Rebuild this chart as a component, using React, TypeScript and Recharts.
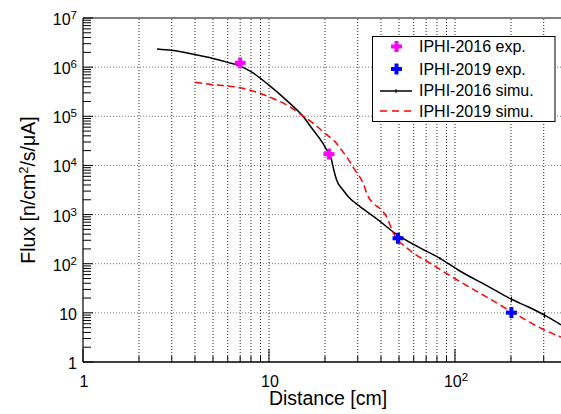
import React from 'react';
import { ComposedChart, Line, Scatter, XAxis, YAxis, ReferenceLine, ErrorBar } from 'recharts';

const FONT = '"Liberation Sans", Arial, Helvetica, sans-serif';

// IPHI-2016 simulation (black solid)
const sim2016X = [2.5, 3, 4, 5, 6, 7, 8, 10, 12.9, 15.3, 17, 19.5, 20.4, 21.7, 22.1, 23.1, 25, 27.2, 30.5, 38, 47.5, 63, 83, 104, 150, 201, 250, 303, 372];
const sim2016Y = [2.35e6, 2.2e6, 1.8e6, 1.5e6, 1.25e6, 1.05e6, 8.1e5, 4.3e5, 1.85e5, 9.8e4, 5.7e4, 2.8e4, 2.06e4, 1.29e4, 9.4e3, 5.06e3, 3.16e3, 2.14e3, 1.5e3, 820, 420, 222, 129, 74.5, 35, 18.9, 13, 9.0, 5.7];
const sim2016Err = [0, 0, 0, 0, 0, 0, 0, 0, 0, 0, 0, 0, 0, 0, 0, 0, 0, 0, 0, 0, 0, 0, 8, 0, 0, 2.5, 0, 1.2, 0];

// IPHI-2019 simulation (red dashed)
const sim2019X = [4, 5, 7, 10, 12.9, 15.3, 17.3, 20, 23.1, 24, 27.2, 28.2, 32, 34, 36.3, 39.4, 42.9, 46.4, 57, 73.6, 106.6, 150, 201, 303, 372];
const sim2019Y = [4.9e5, 4.4e5, 3.8e5, 2.5e5, 1.57e5, 1.0e5, 7.2e4, 4.5e4, 2.8e4, 2.3e4, 1.19e4, 9.4e3, 4.4e3, 2.4e3, 1.7e3, 1.34e3, 900, 440, 190, 102, 43, 20.4, 10.6, 4.48, 3.2];

// measurements
const exp2016X = [7, 21];
const exp2016Y = [1.22e6, 1.7e4];
const exp2019X = [49.4, 201];
const exp2019Y = [329, 10.1];

const xTicks = [1, 2, 3, 4, 5, 6, 7, 8, 9, 10, 20, 30, 40, 50, 60, 70, 80, 90, 100, 200, 300];
const yTicks = [1, 2, 3, 4, 5, 6, 7, 8, 9];
for (let d = 10; d <= 1e6; d *= 10) for (let k = 1; k <= 9; k++) yTicks.push(k * d);
yTicks.push(1e7);
const xGrid = xTicks.filter((v) => v > 1);
const yGrid = [10, 100, 1e3, 1e4, 1e5, 1e6];

const X_MAX = 371.5;

const sim2016 = sim2016X.map((x, i) => ({ x, y: sim2016Y[i], err: sim2016Err[i] }));
const sim2019 = sim2019X.map((x, i) => ({ x, y: sim2019Y[i] }));
const exp2016 = exp2016X.map((x, i) => ({ x, y: exp2016Y[i] }));
const exp2019 = exp2019X.map((x, i) => ({ x, y: exp2019Y[i] }));

const isMajor = (v: number) => {
  const e = Math.log10(v);
  return Math.abs(e - Math.round(e)) < 1e-6;
};

const PowLabel = ({ v }: { v: number }) => {
  const e = Math.round(Math.log10(v));
  if (e === 0) return <>1</>;
  if (e === 1) return <>10</>;
  return (
    <>
      10<tspan dy={-6} fontSize={11.5}>{e}</tspan>
    </>
  );
};

const YTick = (props: any) => {
  const { x, y, payload } = props;
  const major = isMajor(payload.value);
  return (
    <g>
      <line x1={x} x2={x + (major ? 10 : 8)} y1={y} y2={y} stroke="#000" strokeWidth={1} />
      {major && (
        <text x={x - 6} y={y + 7} textAnchor="end" fontSize={16} fontFamily={FONT} fill="#000">
          <PowLabel v={payload.value} />
        </text>
      )}
    </g>
  );
};

const XTick = (props: any) => {
  const { x, y, payload } = props;
  const major = isMajor(payload.value);
  return (
    <g>
      <line x1={x} x2={x} y1={y} y2={y - (major ? 13 : 6)} stroke="#000" strokeWidth={1} />
      {major && (
        <text x={x + 1} y={y + 25} textAnchor="middle" fontSize={16} fontFamily={FONT} fill="#000">
          <PowLabel v={payload.value} />
        </text>
      )}
    </g>
  );
};

const plus = (color: string) => (props: any) => {
  const { cx, cy } = props;
  return (
    <g>
      <line x1={cx - 5.5} x2={cx + 5.5} y1={cy} y2={cy} stroke={color} strokeWidth={4} />
      <line x1={cx} x2={cx} y1={cy - 5.5} y2={cy + 5.5} stroke={color} strokeWidth={4} />
    </g>
  );
};

const Overlay = () => (
  <svg width={561} height={414} style={{ position: 'absolute', left: 0, top: 0, pointerEvents: 'none' }}>
    {/* legend */}
    <rect x={372.5} y={36.5} width={182.5} height={85} fill="#fff" stroke="#000" strokeWidth={1} />
    <g fontFamily={FONT} fontSize={16} fill="#000">
      <line x1={391} x2={402} y1={46.5} y2={46.5} stroke="#ff00ff" strokeWidth={4} />
      <line x1={396.5} x2={396.5} y1={41} y2={52} stroke="#ff00ff" strokeWidth={4} />
      <text x={419} y={52}>IPHI-2016 exp.</text>
      <line x1={391} x2={402} y1={69} y2={69} stroke="#0000ff" strokeWidth={4} />
      <line x1={396.5} x2={396.5} y1={63.5} y2={74.5} stroke="#0000ff" strokeWidth={4} />
      <text x={419} y={74.5}>IPHI-2019 exp.</text>
      <line x1={380} x2={412} y1={91} y2={91} stroke="#000" strokeWidth={1.5} />
      <line x1={396} x2={396} y1={89} y2={93} stroke="#000" strokeWidth={1} />
      <text x={419} y={96}>IPHI-2016 simu.</text>
      <line x1={380} x2={412} y1={111} y2={111} stroke="#ff0000" strokeWidth={1.5} strokeDasharray="7 5" />
      <text x={419} y={117}>IPHI-2019 simu.</text>
    </g>
    {/* axis titles */}
    <text x={328} y={405} textAnchor="middle" fontFamily={FONT} fontSize={19.5} fill="#000">
      Distance [cm]
    </text>
    <text
      x={0}
      y={0}
      transform="translate(35,190) rotate(-90)"
      textAnchor="middle"
      fontFamily={FONT}
      fontSize={19.5}
      fill="#000"
    >
      Flux [n/cm<tspan dy={-7} fontSize={13}>2</tspan>
      <tspan dy={7}>/s/μA]</tspan>
    </text>
  </svg>
);

export default function App() {
  return (
    <div style={{ position: 'absolute', left: 0, top: 0, width: 561, height: 414, background: '#fff' }}>
      <ComposedChart width={561} height={414} margin={{ top: 18, right: 0, bottom: 0, left: 0 }}>
        <XAxis
          dataKey="x"
          type="number"
          scale="log"
          domain={[1, X_MAX]}
          allowDataOverflow
          ticks={xTicks}
          interval={0}
          tick={XTick}
          tickLine={false}
          tickSize={0}
          tickMargin={0}
          height={52}
          axisLine={{ stroke: '#000', strokeWidth: 1.5 }}
        />
        <YAxis
          type="number"
          scale="log"
          domain={[1, 1e7]}
          allowDataOverflow
          ticks={yTicks}
          interval={0}
          tick={YTick}
          tickLine={false}
          tickSize={0}
          tickMargin={0}
          width={83}
          axisLine={{ stroke: '#000', strokeWidth: 1.2 }}
        />
        {xGrid.map((v) => (
          <ReferenceLine key={'gx' + v} x={v} stroke="#222" strokeWidth={1} strokeDasharray="1 2" />
        ))}
        {yGrid.map((v) => (
          <ReferenceLine key={'gy' + v} y={v} stroke="#777" strokeWidth={1} strokeDasharray="1 2" />
        ))}
        <ReferenceLine y={1e7} stroke="#000" strokeWidth={1.2} />
        <Line
          data={sim2016}
          dataKey="y"
          type="monotone"
          stroke="#000"
          strokeWidth={1.5}
          dot={false}
          isAnimationActive={false}
        >
          <ErrorBar dataKey="err" direction="y" width={0} stroke="#000" strokeWidth={1} />
        </Line>
        <Line
          data={sim2019}
          dataKey="y"
          type="monotone"
          stroke="#ff0000"
          strokeWidth={1.5}
          strokeDasharray="7 4"
          dot={false}
          isAnimationActive={false}
        />
        <Scatter data={exp2016} dataKey="y" shape={plus('#ff00ff')} isAnimationActive={false} />
        <Scatter data={exp2019} dataKey="y" shape={plus('#0000ff')} isAnimationActive={false} />
      </ComposedChart>
      <Overlay />
    </div>
  );
}
